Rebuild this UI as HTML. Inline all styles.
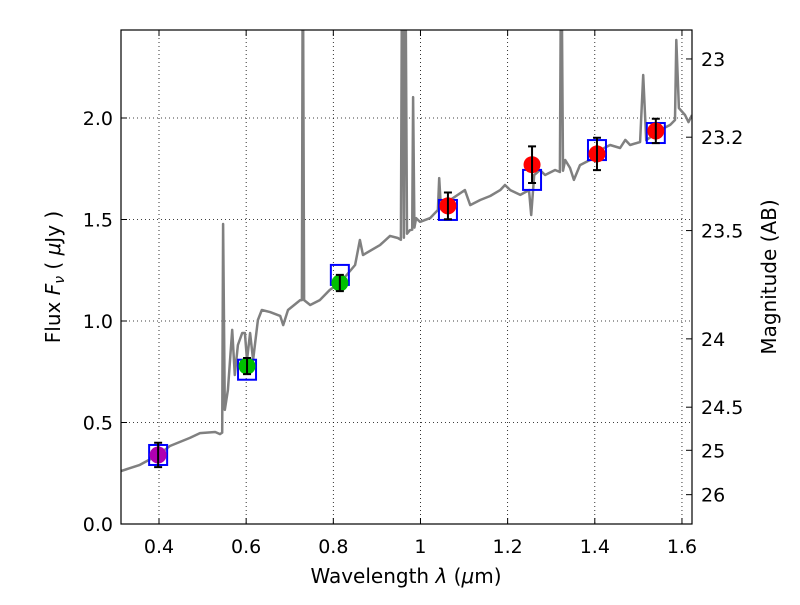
<!DOCTYPE html>
<html><head><meta charset="utf-8"><style>
body{margin:0;background:#fff;}
svg text{font-family:"DejaVu Sans","Liberation Sans",sans-serif;}
</style></head><body>
<svg id="chart" width="800" height="600">
<defs><clipPath id="pc"><rect x="121" y="30" width="571" height="494"/></clipPath></defs>
<rect x="121" y="30" width="571" height="494" fill="#fff"/>
<g id="grid"></g>
<g id="spec" clip-path="url(#pc)"></g>
<g id="marks" clip-path="url(#pc)"></g>
<g id="axes"></g>
<text x="406" y="583" font-size="20" text-anchor="middle">Wavelength  <tspan font-style="italic">λ</tspan> (<tspan font-style="italic">μ</tspan>m)</text>
<text transform="translate(60,277) rotate(-90)" font-size="20" text-anchor="middle">Flux  <tspan font-style="italic">F<tspan font-size="14" dy="4">ν</tspan></tspan><tspan dy="-4">  ( </tspan><tspan font-style="italic">μ</tspan>Jy )</text>
<text transform="translate(776,277) rotate(-90)" font-size="20" text-anchor="middle">Magnitude (AB)</text>
</svg>
<script>
const xTicks=[0.4,0.6,0.8,1.0,1.2,1.4,1.6];
const xTickLabels=["0.4","0.6","0.8","1","1.2","1.4","1.6"];
const yTicks=[0,0.5,1.0,1.5,2.0];
const yTickLabels=["0.0","0.5","1.0","1.5","2.0"];
const magTicks=[23,23.2,23.5,24,24.5,25,26];
const magTickLabels=["23","23.2","23.5","24","24.5","25","26"];
const specLam=[0.313,0.356,0.398,0.425,0.471,0.494,0.529,0.540,0.545,0.547,0.551,0.558,0.568,0.574,0.581,0.591,0.597,0.602,0.609,0.616,0.627,0.636,0.655,0.678,0.685,0.696,0.724,0.728,0.730,0.733,0.747,0.769,0.792,0.815,0.850,0.861,0.868,0.907,0.930,0.948,0.955,0.958,0.962,0.965,0.969,0.976,0.981,0.983,0.986,0.990,0.999,1.022,1.040,1.043,1.047,1.068,1.102,1.114,1.137,1.160,1.183,1.194,1.206,1.229,1.249,1.254,1.261,1.274,1.286,1.309,1.320,1.323,1.327,1.332,1.343,1.352,1.366,1.389,1.412,1.435,1.458,1.470,1.481,1.504,1.511,1.518,1.550,1.573,1.584,1.587,1.593,1.607,1.615,1.623];
const specFlux=[0.261,0.291,0.34,0.384,0.424,0.448,0.453,0.443,0.45,1.478,0.562,0.66,0.956,0.734,0.882,0.941,0.941,0.808,0.941,0.808,1.005,1.054,1.044,1.025,0.98,1.054,1.103,1.103,3.0,1.103,1.079,1.103,1.153,1.187,1.276,1.399,1.325,1.374,1.419,1.409,1.40,3.0,1.41,3.0,1.43,1.448,1.45,2.103,1.46,1.507,1.488,1.507,1.547,1.704,1.55,1.596,1.645,1.571,1.596,1.616,1.645,1.670,1.645,1.621,1.645,1.522,1.719,1.744,1.719,1.744,1.734,3.0,1.74,1.793,1.754,1.695,1.768,1.793,1.842,1.867,1.852,1.892,1.867,1.882,2.212,1.89,1.941,1.966,1.990,2.384,2.049,2.015,1.98,2.015];
const photLam=[0.398,0.602,0.815,1.063,1.256,1.405,1.54];
const photFlux=[0.34,0.778,1.187,1.567,1.77,1.823,1.936];
const photErr=[0.06,0.04,0.04,0.066,0.09,0.08,0.06];
const photColor=["#b000b0","#00c000","#00c000","#ff0000","#ff0000","#ff0000","#ff0000"];
const modelFlux=[0.34,0.76,1.227,1.547,1.695,1.842,1.926];

const L=121,R=692,T=30,B=524;
const X=v=>159+(v-0.4)*435.8;
const Y=v=>B-v*203;
const MY=m=>Y(Math.pow(10,(23.9-m)/2.5));
const NS="http://www.w3.org/2000/svg";
function mk(tag,attrs,parent){const e=document.createElementNS(NS,tag);for(const k in attrs)e.setAttribute(k,attrs[k]);parent.appendChild(e);return e;}
const grid=document.getElementById('grid'),axes=document.getElementById('axes'),spec=document.getElementById('spec'),marks=document.getElementById('marks');

xTicks.forEach((v,i)=>{const x=X(v);
 let g=mk('line',{x1:x,x2:x,y1:T,y2:B,stroke:'#000','stroke-width':0.8,'stroke-dasharray':'1,3'},grid);
 
 
 let t=mk('line',{x1:x,x2:x,y1:B,y2:B-6,stroke:'#000'},axes);
 
 
 let t2=mk('line',{x1:x,x2:x,y1:T,y2:T+6,stroke:'#000'},axes);
 
 
 let tx=mk('text',{x:x,y:B+29,'font-size':19,'text-anchor':'middle'},axes);tx.textContent=xTickLabels[i];
 
 
});
yTicks.forEach((v,i)=>{const y=Y(v);
 let g=mk('line',{x1:L,x2:R,y1:y,y2:y,stroke:'#000','stroke-width':0.8,'stroke-dasharray':'1,3'},grid);
 
 
 let t=mk('line',{x1:L,x2:L+6,y1:y,y2:y,stroke:'#000'},axes);
 
 
 let tx=mk('text',{x:L-8,y:y+7,'font-size':19,'text-anchor':'end'},axes);tx.textContent=yTickLabels[i];
 
 
});
magTicks.forEach((m,i)=>{const y=MY(m);
 let t=mk('line',{x1:R-6,x2:R,y1:y,y2:y,stroke:'#000'},axes);
 
 
 let tx=mk('text',{x:R+9,y:y+7,'font-size':19},axes);tx.textContent=magTickLabels[i];
 
 
});
let frame=mk('rect',{x:L,y:T,width:R-L,height:B-T,fill:'none',stroke:'#000','stroke-width':1.2},axes);



let d=specLam.map((l,i)=>(i?'L':'M')+X(l).toFixed(1)+','+Y(specFlux[i]).toFixed(1)).join('');
let sp=mk('path',{d:d,fill:'none',stroke:'#808080','stroke-width':2.5,'stroke-linejoin':'round'},spec);



photLam.forEach((l,i)=>{const x=X(l);
 let b=mk('rect',{x:x-9,y:Y(modelFlux[i])-10,width:18,height:20,fill:'none',stroke:'#0000ff','stroke-width':2},marks);
 
 
 let c=mk('circle',{cx:x,cy:Y(photFlux[i]),r:8.5,fill:photColor[i]},marks);
 
 
 const y1=Y(photFlux[i]+photErr[i]),y2=Y(photFlux[i]-photErr[i]);
 let e=mk('path',{d:`M${x},${y1}L${x},${y2}M${x-4},${y1}L${x+4},${y1}M${x-4},${y2}L${x+4},${y2}`,stroke:'#000','stroke-width':2,fill:'none'},marks);
 
 
});
</script>
</body></html>
